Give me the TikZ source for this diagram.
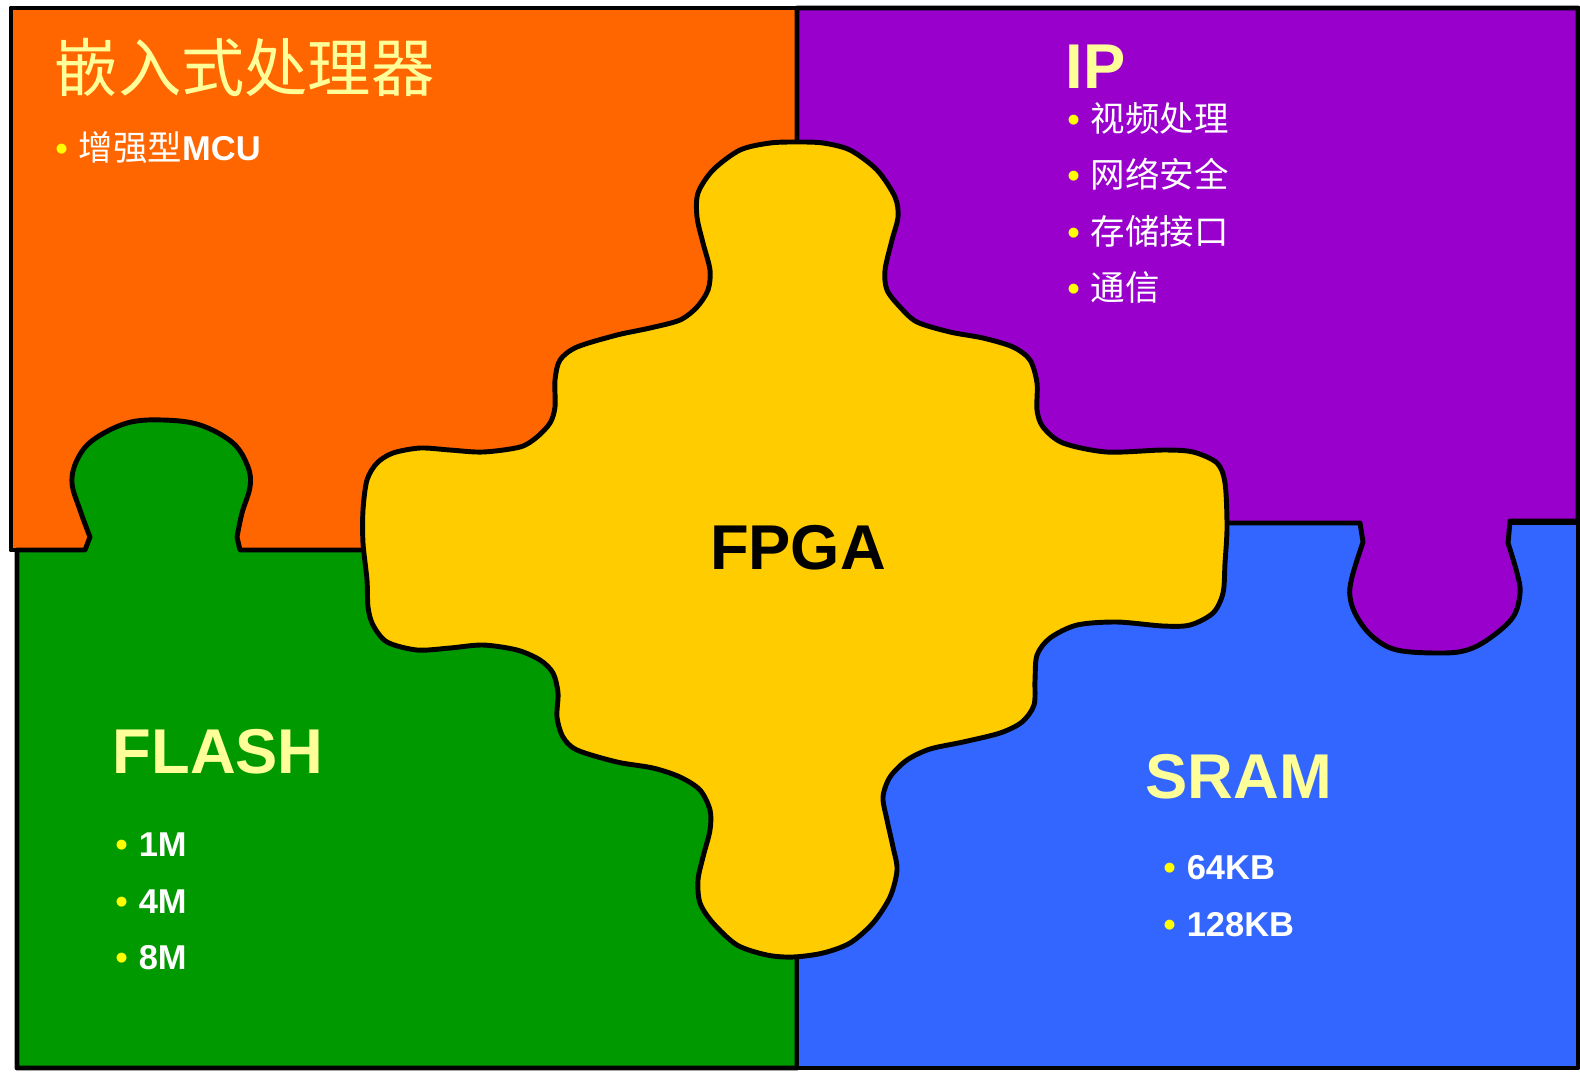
\documentclass[tikz,border=0pt]{standalone}
\usepackage{fontspec}
\setmainfont{Liberation Sans}
\newfontfamily\cjk{Noto Sans CJK SC}
\usetikzlibrary{positioning}
\definecolor{mcuorange}{HTML}{FF6600}
\definecolor{ippurple}{HTML}{9900CC}
\definecolor{flashgreen}{HTML}{009900}
\definecolor{sramblue}{HTML}{3366FF}
\definecolor{fpgayellow}{HTML}{FFCC00}
\definecolor{headyellow}{HTML}{FFFF99}
\definecolor{dotyellow}{HTML}{FFFF00}
\tikzstyle{piece} = [draw=black, line width=1.4pt, line join=round]
\tikzstyle{head} = [text=headyellow, font=\fontsize{18pt}{20pt}\selectfont\bfseries,
    inner sep=0pt, anchor=base west]
\tikzstyle{item} = [text=white, font=\fontsize{9.8pt}{11pt}\selectfont\bfseries,
    inner sep=0pt, anchor=west]
\newcommand{\dotmark}{{\color{dotyellow}\textbullet}\hspace{0.32em}}

\begin{document}
\begin{tikzpicture}[x=0.01cm, y=-0.01cm]
  \useasboundingbox[fill=white] (0,0) rectangle (1580,1072);
  % Place pieces
  \filldraw[piece, fill=mcuorange] (11,8) rectangle (797,550);
  \filldraw[piece, fill=flashgreen] (17,1068) -- (17,550) -- (85,550)
    -- plot[smooth, tension=0.6] coordinates {(90,537) (80,510) (72,483) (77,460) (93,440)
       (127,423) (163,420) (200,425) (233,443) (248,467) (250,487) (242,513) (237,537)}
    -- (240,550) -- (797,550) -- (797,1068) -- cycle;
  \filldraw[piece, fill=sramblue] (797,523) rectangle (1578,1068);
  \filldraw[piece, fill=ippurple] (797,8) -- (1578,8) -- (1578,521) -- (1510,521)
    -- plot[smooth, tension=0.6] coordinates {(1508,543) (1517,573) (1520,593) (1513,617)
       (1490,638) (1467,650) (1440,653) (1397,650) (1373,637) (1357,617) (1350,597)
       (1352,577) (1363,542)}
    -- (1360,523) -- (797,523) -- cycle;
  \filldraw[piece, fill=fpgayellow] plot[smooth cycle, tension=0.5] coordinates {
    (797,142) (823,143) (850,150) (877,170) (895,197) (898,217) (892,240) (885,270)
    (887,290) (900,307) (917,322) (950,332) (983,338) (1013,347) (1030,360) (1037,383)
    (1037,410) (1043,427) (1063,443) (1107,452) (1163,450) (1193,452) (1217,463)
    (1225,483) (1227,527) (1225,563) (1223,593) (1213,613) (1190,625) (1163,626)
    (1117,622) (1077,625) (1050,638) (1037,655) (1035,680) (1034,705) (1022,722)
    (1000,733) (963,742) (930,749) (907,760) (890,777) (883,797) (887,820) (893,847)
    (897,870) (890,897) (873,923) (850,943) (823,953) (793,957) (767,955) (737,945)
    (713,923) (700,903) (698,880) (703,857) (710,830) (710,810) (700,790) (680,777)
    (653,768) (617,762) (577,750) (563,737) (557,717) (558,693) (553,673) (540,660)
    (517,650) (483,645) (450,648) (417,650) (387,642) (373,625) (368,607) (367,580)
    (363,543) (363,510) (367,480) (377,463) (393,453) (420,448) (450,450) (483,452)
    (520,447) (537,437) (550,423) (555,407) (555,380) (560,360) (577,347) (617,335)
    (650,328) (680,320) (697,307) (708,290) (710,270) (703,243) (697,217) (698,193)
    (713,170) (740,150) (770,143)};
  % Place headings
  \node[head, font=\cjk\fontsize{18pt}{20pt}\selectfont, anchor=west] (mcuhead) at (54,67) {嵌入式处理器};
  \node[head] (iphead) at (1065,88) {IP};
  \node[head] (flashhead) at (112,773) {FLASH};
  \node[head] (sramhead) at (1145,798) {SRAM};
  \node[head, text=black, anchor=center] (fpgahead) at (798,548) {FPGA};
  % Place items
  \node[item] (mcu1) at (55,147) {\dotmark{\cjk\mdseries 增强型}MCU};
  \node[item] (ip1) at (1067,118) {\dotmark{\cjk\mdseries 视频处理}};
  \node[item, below=5.65mm of ip1.west, anchor=west] (ip2) {\dotmark{\cjk\mdseries 网络安全}};
  \node[item, below=5.65mm of ip2.west, anchor=west] (ip3) {\dotmark{\cjk\mdseries 存储接口}};
  \node[item, below=5.65mm of ip3.west, anchor=west] (ip4) {\dotmark{\cjk\mdseries 通信}};
  \node[item] (flash1) at (115,845) {\dotmark 1M};
  \node[item, below=5.65mm of flash1.west, anchor=west] (flash2) {\dotmark 4M};
  \node[item, below=5.65mm of flash2.west, anchor=west] (flash3) {\dotmark 8M};
  \node[item] (sram1) at (1163,868) {\dotmark 64KB};
  \node[item, below=5.65mm of sram1.west, anchor=west] (sram2) {\dotmark 128KB};
\end{tikzpicture}
\end{document}
